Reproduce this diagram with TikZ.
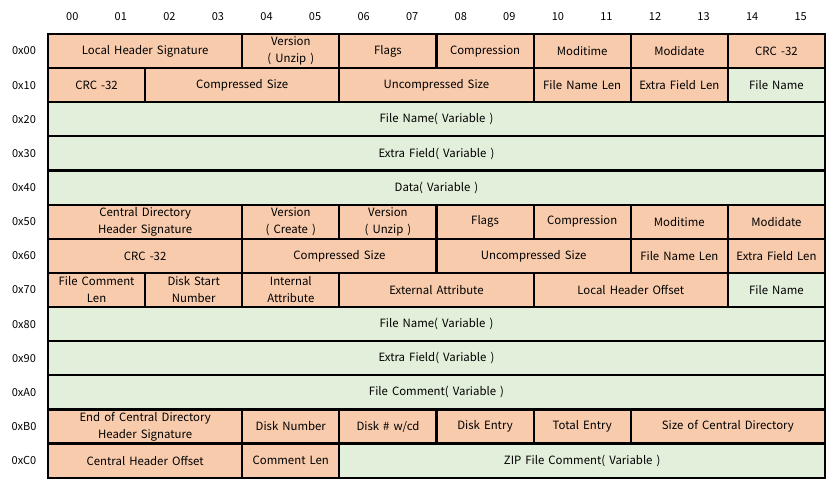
\documentclass[tikz,border=0pt]{standalone}
\usepackage{fontspec}
\setmainfont[WordSpace=1.6]{Noto Sans CJK KR}
\definecolor{salmon}{HTML}{F8CBAD}
\definecolor{mint}{HTML}{E2EFDA}
\newcommand\fld[6]{\node[cellbox,fill=#5,minimum width={#3*48.5625pt},minimum height=34.13pt] (#1) at ({48+(#2+#3/2)*48.5625},{34+(#4+0.5)*34.13}) {#6};}
\begin{document}
\begin{tikzpicture}[x=1pt,y=-1pt,
  cellbox/.style={draw=black,line width=2.2pt,inner sep=0pt,align=center,font=\fontsize{11.4}{17}\selectfont},
  hdr/.style={inner sep=0pt,font=\fontsize{11}{13}\selectfont}]
\useasboundingbox (0,0) rectangle (832,484);
% column headers
\foreach \c/\t in {0/00,1/01,2/02,3/03,4/04,5/05,6/06,7/07,8/08,9/09,10/10,11/11,12/12,13/13,14/14,15/15}
  \node[hdr] (col\c) at ({48+(\c+0.5)*48.5625},17) {\t};
% row headers
\foreach \r/\t in {0/0x00,1/0x10,2/0x20,3/0x30,4/0x40,5/0x50,6/0x60,7/0x70,8/0x80,9/0x90,10/0xA0,11/0xB0,12/0xC0}
  \node[hdr] (row\r) at (24,{34+(\r+0.5)*34.13}) {\t};
% row 0x00
\fld{a1}{0}{4}{0}{salmon}{Local Header Signature}
\fld{a2}{4}{2}{0}{salmon}{Version\\( Unzip )}
\fld{a3}{6}{2}{0}{salmon}{Flags}
\fld{a4}{8}{2}{0}{salmon}{Compression}
\fld{a5}{10}{2}{0}{salmon}{Moditime}
\fld{a6}{12}{2}{0}{salmon}{Modidate}
\fld{a7}{14}{2}{0}{salmon}{CRC -32}
% row 0x10
\fld{b1}{0}{2}{1}{salmon}{CRC -32}
\fld{b2}{2}{4}{1}{salmon}{Compressed Size}
\fld{b3}{6}{4}{1}{salmon}{Uncompressed Size}
\fld{b4}{10}{2}{1}{salmon}{File Name Len}
\fld{b5}{12}{2}{1}{salmon}{Extra Field Len}
\fld{b6}{14}{2}{1}{mint}{File Name}
% rows 0x20-0x40
\fld{c1}{0}{16}{2}{mint}{File Name( Variable )}
\fld{d1}{0}{16}{3}{mint}{Extra Field( Variable )}
\fld{e1}{0}{16}{4}{mint}{Data( Variable )}
% row 0x50
\fld{f1}{0}{4}{5}{salmon}{Central Directory\\Header Signature}
\fld{f2}{4}{2}{5}{salmon}{Version\\( Create )}
\fld{f3}{6}{2}{5}{salmon}{Version\\( Unzip )}
\fld{f4}{8}{2}{5}{salmon}{Flags}
\fld{f5}{10}{2}{5}{salmon}{Compression}
\fld{f6}{12}{2}{5}{salmon}{Moditime}
\fld{f7}{14}{2}{5}{salmon}{Modidate}
% row 0x60
\fld{g1}{0}{4}{6}{salmon}{CRC -32}
\fld{g2}{4}{4}{6}{salmon}{Compressed Size}
\fld{g3}{8}{4}{6}{salmon}{Uncompressed Size}
\fld{g4}{12}{2}{6}{salmon}{File Name Len}
\fld{g5}{14}{2}{6}{salmon}{Extra Field Len}
% row 0x70
\fld{h1}{0}{2}{7}{salmon}{File Comment\\Len}
\fld{h2}{2}{2}{7}{salmon}{Disk Start\\Number}
\fld{h3}{4}{2}{7}{salmon}{Internal\\Attribute}
\fld{h4}{6}{4}{7}{salmon}{External Attribute}
\fld{h5}{10}{4}{7}{salmon}{Local Header Offset}
\fld{h6}{14}{2}{7}{mint}{File Name}
% rows 0x80-0xA0
\fld{i1}{0}{16}{8}{mint}{File Name( Variable )}
\fld{j1}{0}{16}{9}{mint}{Extra Field( Variable )}
\fld{k1}{0}{16}{10}{mint}{File Comment( Variable )}
% row 0xB0
\fld{l1}{0}{4}{11}{salmon}{End of Central Directory\\Header Signature}
\fld{l2}{4}{2}{11}{salmon}{Disk Number}
\fld{l3}{6}{2}{11}{salmon}{Disk \# w/cd}
\fld{l4}{8}{2}{11}{salmon}{Disk Entry}
\fld{l5}{10}{2}{11}{salmon}{Total Entry}
\fld{l6}{12}{4}{11}{salmon}{Size of Central Directory}
% row 0xC0
\fld{m1}{0}{4}{12}{salmon}{Central Header Offset}
\fld{m2}{4}{2}{12}{salmon}{Comment Len}
\fld{m3}{6}{10}{12}{mint}{ZIP File Comment( Variable )}
\end{tikzpicture}
\end{document}
